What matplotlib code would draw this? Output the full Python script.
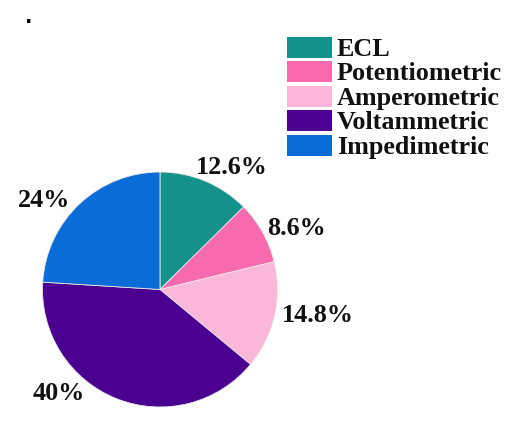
import matplotlib
matplotlib.use("Agg")
import numpy as np
import matplotlib.pyplot as plt
from matplotlib.patches import Rectangle

# data
categories = ["ECL", "Potentiometric", "Amperometric", "Voltammetric", "Impedimetric"]
shares = [12.6, 8.6, 14.8, 40, 24]
pct_labels = ["12.6%", "8.6%", "14.8%", "40%", "24%"]
colors = ["#14918A", "#F76BAE", "#FBB7DA", "#4A0190", "#0B6BD7"]

# label placement tweaks: (radius, angle shift in degrees) relative to wedge middle
label_r = [1.21, 1.28, 1.36, 1.23, 1.25]
label_dang = [-7.5, -4.8, 4.1, -22.7, 8.8]

FONT = "Liberation Serif"

fig = plt.figure(figsize=(5.10, 4.31), dpi=100)
fig.set_facecolor("white")

ax = fig.add_axes([0.0833, 0.0534, 0.4608, 0.5452])
wedges, _ = ax.pie(
    shares,
    colors=colors,
    startangle=90,
    counterclock=False,
    radius=1.0,
    wedgeprops=dict(edgecolor="#E8E8E8", linewidth=0.6),
)
ax.set_xlim(-1, 1)
ax.set_ylim(-1, 1)
ax.set_aspect("equal")
ax.axis("off")

# percentage labels around the pie
for w, lab, r, da in zip(wedges, pct_labels, label_r, label_dang):
    mid = np.deg2rad((w.theta1 + w.theta2) / 2 + da)
    ax.text(
        r * np.cos(mid),
        r * np.sin(mid),
        lab,
        ha="center",
        va="center",
        fontsize=18.8,
        fontweight="bold",
        family=FONT,
        color="#111111",
        clip_on=False,
    )

# manual legend (boxes + labels), top right
W, H = 510.0, 431.0
box_x, box_w, box_h = 287, 45, 21
row0, row_step = 48, 24.6
for i, (cat, col) in enumerate(zip(categories, colors)):
    yc = row0 + i * row_step
    fig.patches.append(
        Rectangle(
            (box_x / W, 1 - (yc + box_h / 2) / H),
            box_w / W,
            box_h / H,
            facecolor=col,
            edgecolor="none",
            transform=fig.transFigure,
            figure=fig,
        )
    )
    fig.text(
        337 / W,
        1 - (yc + 1) / H,
        cat,
        ha="left",
        va="center",
        fontsize=18.8,
        fontweight="bold",
        family=FONT,
        color="#111111",
    )

# stray dot in the top-left corner of the original
fig.text(29 / W, 1 - 23 / H, ".", ha="center", va="baseline",
         fontsize=14, fontweight="bold", color="black")

fig.savefig("out.png", dpi=100, facecolor="white")
